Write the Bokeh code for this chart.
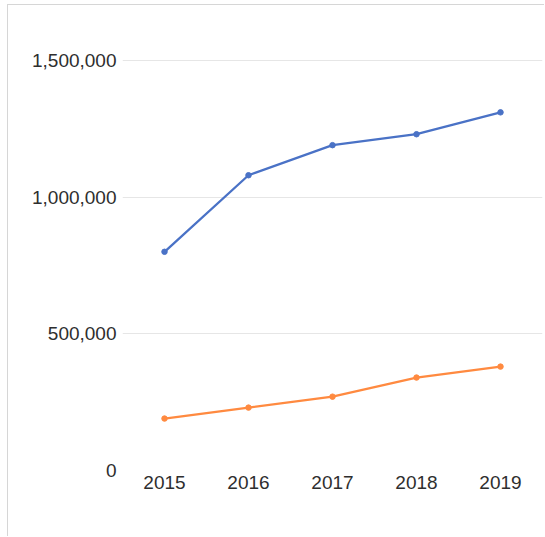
from bokeh.plotting import figure
from bokeh.models import FixedTicker, NumeralTickFormatter, Range1d
from bokeh.embed import file_html
from bokeh.resources import INLINE

years = ["2015", "2016", "2017", "2018", "2019"]
series_a = [800000, 1080000, 1190000, 1230000, 1310000]
series_b = [190000, 230000, 270000, 340000, 380000]
y_ticks = [0, 500000, 1000000, 1500000]

blue = "#4a72c6"
orange = "#ff8a40"

p = figure(width=537, height=532, x_range=years, y_range=Range1d(0, 1646000),
           output_backend="svg", toolbar_location=None,
           min_border_left=114, min_border_right=3, min_border_top=15, min_border_bottom=67)
p.margin = (4, 0, 0, 7)
p.styles = {"border-left": "1px solid #d6d6d6", "border-top": "1px solid #d6d6d6"}
p.outline_line_color = None
p.background_fill_color = "white"
p.border_fill_color = "white"

p.line(years, series_a, line_color=blue, line_width=2.3)
p.scatter(years, series_a, size=5.5, color=blue)
p.line(years, series_b, line_color=orange, line_width=2.3)
p.scatter(years, series_b, size=5.5, color=orange)

p.yaxis.ticker = FixedTicker(ticks=y_ticks)
p.yaxis.formatter = NumeralTickFormatter(format="0,0")
for ax in (p.xaxis[0], p.yaxis[0]):
    ax.axis_line_color = None
    ax.major_tick_line_color = None
    ax.minor_tick_line_color = None
    ax.major_label_text_font = "Liberation Sans"
    ax.major_label_text_font_size = "19px"
    ax.major_label_text_color = "#2e2e2e"
p.yaxis.major_label_standoff = 0
p.xaxis.major_label_standoff = -1

p.xgrid.grid_line_color = None
p.ygrid.ticker = FixedTicker(ticks=y_ticks)
p.ygrid.grid_line_color = "#e6e6e6"
p.ygrid.grid_line_width = 1.2

open("out.html", "w").write(file_html(p, INLINE))
